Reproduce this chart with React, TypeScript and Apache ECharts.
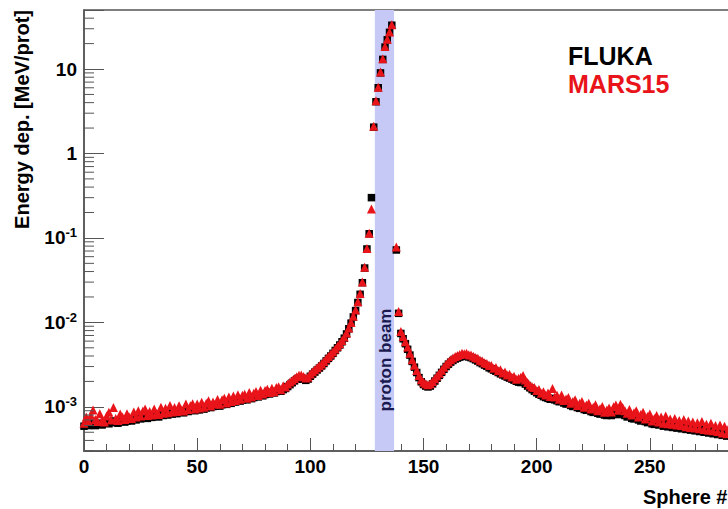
import React, { useEffect, useRef } from "react";
import * as echarts from "echarts";

const FONT = '"Liberation Sans", Arial, Helvetica, sans-serif';
const AXIS = "#555";
const RED = "#e8141a";

// Energy deposition per sphere (index = Sphere #), in units of 1e-4 MeV/prot
const flukaE4: (number | null)[] = [
  5.9, 6.1, 6.0, 6.3, 6.2, 6.0, 6.4, 6.3, 6.1, 6.4,
  6.5, 6.3, 6.6, 6.8, 6.5, 6.4, 6.7, 6.9, 6.6, 6.8,
  7.0, 6.8, 7.2, 7.0, 7.4, 7.2, 7.5, 7.7, 7.3, 7.6,
  7.5, 7.8, 7.7, 7.6, 8.1, 7.9, 8.2, 8.0, 8.5, 8.2,
  8.4, 8.3, 8.7, 8.6, 8.5, 9.0, 8.8, 9.1, 9.3, 9.0,
  9.3, 9.2, 9.6, 9.4, 9.7, 10.0, 9.8, 10.1, 10.3, 10.4,
  10.2, 10.6, 10.9, 10.7, 11.2, 11.0, 11.5, 11.4, 11.9, 11.7,
  12.0, 12.4, 12.1, 12.8, 12.5, 12.9, 13.4, 13.1, 13.8, 13.5,
  14.0, 14.4, 14.2, 14.8, 14.6, 15.2, 15.6, 15.3, 16.0, 16.5,
  17.4, 18.3, 19.3, 20.3, 21.2, 21.9, 22.0, 21.2, 20.6, 21.3,
  23.0, 24.4, 25.8, 27.3, 28.8, 30.5, 32.6, 35.0, 37.5, 40.0,
  43.0, 46.5, 50.0, 54.0, 59.0, 65.0, 73.0, 84.0, 98.0, 116,
  138, 172, 215, 295, 440, 740, 1120, 3000, 20500, 41000,
  60000, 90000, 130000, 182000, 222000, 272000, 330000, null, 720, 128,
  74, 64, 56, 48, 41, 34.5, 29.5, 25.5, 22.2, 19.8,
  18.4, 17.6, 17.2, 17.6, 18.7, 20.2, 21.8, 23.6, 25.6, 27.8,
  30.0, 32.0, 33.8, 35.4, 36.8, 37.8, 38.8, 39.6, 39.8, 39.6,
  39.0, 38.2, 37.2, 36.0, 34.8, 33.4, 32.4, 31.2, 30.2, 29.0,
  28.2, 27.2, 26.4, 25.5, 24.6, 23.9, 23.2, 22.5, 21.9, 21.3,
  20.7, 20.1, 19.6, 19.4, 19.6, 18.6, 17.6, 16.8, 16.0, 15.3,
  14.7, 14.1, 13.7, 13.2, 12.9, 12.6, 12.3, 12.6, 12.1, 11.8,
  11.5, 11.6, 11.1, 10.8, 10.9, 10.4, 10.1, 10.2, 9.8, 9.6,
  9.8, 9.3, 9.1, 9.3, 8.8, 8.6, 8.8, 8.4, 8.2, 8.4,
  8.0, 7.9, 8.1, 7.9, 8.2, 8.4, 8.1, 8.5, 8.3, 7.9,
  7.6, 7.7, 7.3, 7.2, 7.4, 7.0, 6.8, 7.1, 6.7, 6.5,
  6.7, 6.3, 6.2, 6.5, 6.1, 6.3, 5.9, 6.3, 5.8, 6.0,
  5.7, 6.0, 5.6, 5.8, 5.5, 5.8, 5.4, 5.6, 5.3, 5.5,
  5.2, 5.4, 5.1, 5.4, 5.0, 5.2, 4.9, 5.2, 4.8, 5.0,
  4.7, 4.9, 4.6, 4.8, 4.5, 4.7, 4.5, 4.7, 4.4,
];

const marsE4: (number | null)[] = [
  6.4, 7.6, 6.8, 7.9, 9.2, 7.1, 6.7, 8.3, 7.0, 6.6,
  7.8, 8.6, 7.0, 9.8, 7.3, 6.9, 8.2, 7.6, 7.1, 8.3,
  7.6, 7.3, 8.7, 7.6, 9.0, 7.8, 8.9, 9.4, 7.9, 8.8,
  8.0, 9.4, 8.3, 8.1, 9.9, 8.4, 9.6, 8.5, 10.4, 8.7,
  9.8, 8.8, 10.3, 9.2, 8.9, 10.8, 9.3, 10.3, 10.9, 9.4,
  10.8, 9.7, 11.3, 9.9, 11.0, 11.8, 10.2, 11.4, 10.8, 12.2,
  10.7, 12.1, 12.6, 11.1, 13.1, 11.6, 13.4, 11.9, 13.9, 12.3,
  13.7, 14.1, 12.6, 14.8, 13.1, 14.5, 15.2, 13.6, 15.7, 14.2,
  15.6, 16.1, 14.8, 16.6, 15.1, 16.9, 17.3, 15.9, 17.8, 17.2,
  18.6, 19.7, 20.6, 21.6, 22.7, 23.6, 23.9, 22.8, 21.9, 22.6,
  24.5, 26.0, 27.4, 29.0, 30.6, 32.2, 34.5, 37.0, 39.5, 42.0,
  45.0, 48.5, 52.0, 56.0, 61.0, 67.0, 75.0, 86.0, 100, 118,
  140, 175, 220, 300, 450, 750, 1140, 2200, 21000, 42000,
  61000, 92000, 132000, 185000, 225000, 275000, 335000, null, 780, 135,
  78, 68, 59, 51, 43, 36, 31, 27, 23.5, 21,
  19.5, 18.8, 18.3, 18.8, 20.0, 21.5, 23.2, 25.0, 27.2, 29.5,
  32.0, 34.0, 36.0, 37.8, 39.5, 40.5, 41.8, 43.0, 42.6, 43.2,
  41.5, 41.0, 39.8, 38.4, 37.5, 35.6, 34.8, 33.2, 32.5, 31.0,
  30.8, 28.6, 29.2, 26.8, 27.4, 25.1, 25.9, 23.8, 24.3, 22.6,
  23.1, 21.2, 21.8, 22.4, 23.5, 20.8, 19.4, 18.2, 17.3, 17.0,
  15.6, 16.0, 14.5, 15.1, 13.8, 14.6, 13.3, 16.5, 13.1, 13.7,
  12.3, 13.8, 11.9, 12.4, 12.9, 11.0, 11.6, 12.1, 10.4, 11.0,
  11.6, 9.9, 10.5, 11.0, 9.4, 9.9, 10.6, 9.0, 9.5, 10.1,
  8.6, 9.2, 9.7, 8.7, 10.0, 10.5, 9.1, 10.7, 9.8, 9.0,
  8.4, 9.3, 8.0, 8.5, 9.0, 7.6, 8.1, 8.6, 7.2, 7.7,
  8.2, 6.8, 7.3, 7.9, 6.6, 7.6, 6.4, 7.8, 6.3, 7.2,
  6.2, 7.3, 6.1, 6.9, 6.0, 7.1, 5.8, 6.8, 5.7, 6.6,
  5.6, 6.5, 5.5, 6.7, 5.4, 6.2, 5.3, 6.4, 5.2, 6.0,
  5.1, 6.1, 4.9, 5.9, 4.8, 5.7, 4.9, 5.8, 4.7,
];

const UNIT = 1e-4;
const beamRange = [128.5, 137];
const xRange = [0, 300];
const yRange = [3e-4, 50];
const yDecades = [-4, -3, -2, -1, 0, 1];
const yMinorMultipliers = [2, 3, 4, 5, 6, 7, 8, 9];

function toPoints(arr: (number | null)[]) {
  const out: [number, number][] = [];
  arr.forEach((v, i) => {
    if (v !== null) out.push([i, v * UNIT]);
  });
  return out;
}

export default function App() {
  const ref = useRef<HTMLDivElement>(null);
  useEffect(() => {
    if (!ref.current) return;
    const chart = echarts.init(ref.current, undefined, { renderer: "svg" });

    const minorTicks: [number, number][] = [];
    yDecades.forEach((d) => {
      yMinorMultipliers.forEach((m) => {
        const v = m * Math.pow(10, d);
        if (v > yRange[0] && v < yRange[1]) minorTicks.push([0, v]);
      });
    });

    const labelBase = {
      color: "#000",
      fontSize: 19,
      fontWeight: "bold" as const,
      fontFamily: FONT,
    };

    const option: any = {
      animation: false,
      grid: {
        left: 84,
        top: 10,
        width: 679,
        height: 441,
        show: true,
        borderColor: AXIS,
        borderWidth: 1.5,
        outerBoundsMode: "none",
        containLabel: false,
      },
      xAxis: {
        type: "value",
        min: xRange[0],
        max: xRange[1],
        interval: 50,
        axisLine: { show: true, onZero: false, lineStyle: { color: AXIS, width: 1.5 } },
        axisTick: { show: true, inside: true, length: 13, lineStyle: { color: AXIS, width: 1 } },
        minorTick: { show: true, splitNumber: 5, length: 7, lineStyle: { color: AXIS, width: 1 } },
        splitLine: { show: false },
        axisLabel: { ...labelBase, margin: 6, showMaxLabel: false },
      },
      yAxis: {
        type: "log",
        logBase: 10,
        min: yRange[0],
        max: yRange[1],
        axisLine: { show: true, lineStyle: { color: AXIS, width: 1.5 } },
        axisTick: { show: true, inside: true, length: 20, lineStyle: { color: AXIS, width: 1 } },
        splitLine: { show: false },
        axisLabel: {
          margin: 7,
          formatter: (v: number) => {
            const lg = Math.log10(v);
            const e = Math.round(lg);
            if (Math.abs(lg - e) > 1e-6) return "";
            if (e === 0) return "{b|1}";
            if (e === 1) return "{b|10}";
            return `{b|10}{s|${e}}`;
          },
          rich: {
            b: { ...labelBase },
            s: { ...labelBase, fontSize: 13, padding: [0, 0, 10, 0] },
          },
        },
      },
      series: [
        {
          type: "custom",
          name: "yMinorTicks",
          silent: true,
          z: 5,
          data: minorTicks,
          renderItem: (_p: any, api: any) => {
            const pt = api.coord([xRange[0], api.value(1)]);
            return {
              type: "line",
              shape: { x1: pt[0], y1: pt[1], x2: pt[0] + 10, y2: pt[1] },
              style: { stroke: AXIS, lineWidth: 1 },
            };
          },
        },
        {
          type: "scatter",
          name: "beam",
          silent: true,
          z: 1,
          data: [],
          markArea: {
            silent: true,
            itemStyle: { color: "#c6c8f5", opacity: 1 },
            data: [[{ xAxis: beamRange[0] }, { xAxis: beamRange[1] }]],
          },
        },
        {
          type: "scatter",
          name: "FLUKA",
          z: 3,
          symbol: "rect",
          symbolSize: 7.5,
          itemStyle: { color: "#000", opacity: 1 },
          data: toPoints(flukaE4),
        },
        {
          type: "scatter",
          name: "MARS15",
          z: 4,
          symbol: "triangle",
          symbolSize: 9,
          itemStyle: { color: RED, opacity: 1 },
          data: toPoints(marsE4),
        },
      ],
      graphic: [
        {
          type: "text",
          x: 22,
          y: 10,
          rotation: Math.PI / 2,
          style: {
            text: "Energy dep. [MeV/prot]",
            align: "right",
            verticalAlign: "middle",
            fill: "#000",
            fontSize: 20,
            fontWeight: "bold",
            fontFamily: FONT,
          },
        },
        {
          type: "text",
          x: 643,
          y: 497,
          style: {
            text: "Sphere #",
            align: "left",
            verticalAlign: "middle",
            fill: "#000",
            fontSize: 20,
            fontWeight: "bold",
            fontFamily: FONT,
          },
        },
        {
          type: "text",
          x: 385,
          y: 360,
          rotation: Math.PI / 2,
          z: 10,
          style: {
            text: "proton beam",
            align: "center",
            verticalAlign: "middle",
            fill: "#1a1a50",
            fontSize: 17,
            fontWeight: "bold",
            fontFamily: FONT,
          },
        },
        {
          type: "text",
          x: 568,
          y: 56,
          style: {
            text: "FLUKA",
            align: "left",
            verticalAlign: "middle",
            fill: "#000",
            fontSize: 25,
            fontWeight: "bold",
            fontFamily: FONT,
          },
        },
        {
          type: "text",
          x: 568,
          y: 84,
          style: {
            text: "MARS15",
            align: "left",
            verticalAlign: "middle",
            fill: RED,
            fontSize: 25,
            fontWeight: "bold",
            fontFamily: FONT,
          },
        },
      ],
    };
    chart.setOption(option);
    return () => chart.dispose();
  }, []);

  return (
    <div
      ref={ref}
      style={{ position: "fixed", left: 0, top: 0, width: 728, height: 509, background: "#fff" }}
    />
  );
}
